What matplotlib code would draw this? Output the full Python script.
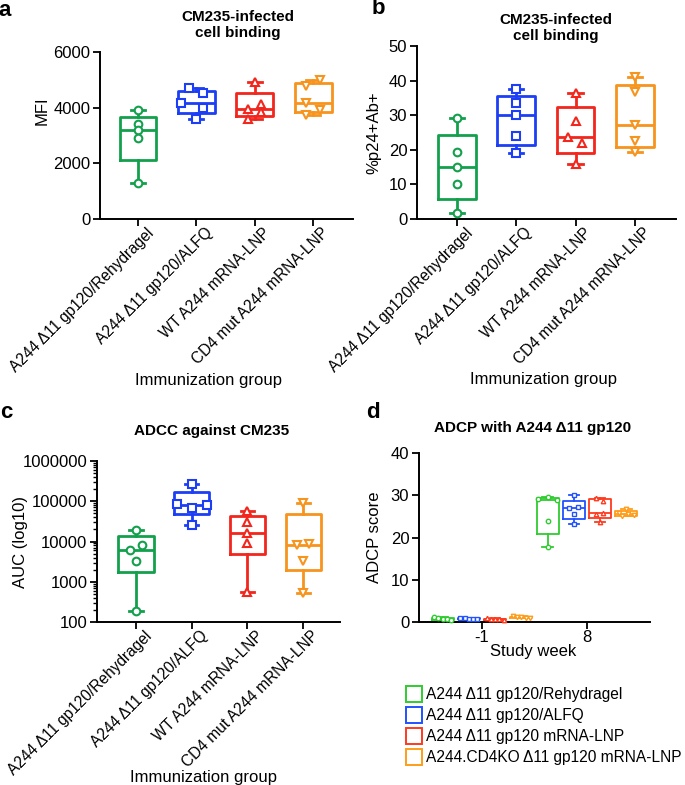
import matplotlib
matplotlib.use('Agg')
import matplotlib.pyplot as plt
import numpy as np
from matplotlib.lines import Line2D
from matplotlib.transforms import ScaledTranslation
from matplotlib.ticker import FixedLocator, FuncFormatter, LogLocator, NullFormatter

plt.rcParams['font.family'] = ['Liberation Sans', 'DejaVu Sans']

# ---- data ----
groups = ['A244 Δ11 gp120/Rehydragel', 'A244 Δ11 gp120/ALFQ',
          'WT A244 mRNA-LNP', 'CD4 mut A244 mRNA-LNP']
legend_labels = ['A244 Δ11 gp120/Rehydragel', 'A244 Δ11 gp120/ALFQ',
                 'A244 Δ11 gp120 mRNA-LNP', 'A244.CD4KO Δ11 gp120 mRNA-LNP']

mfi = [[3920, 3420, 3180, 2920, 1300],
       [4690, 4510, 4180, 3975, 3610],
       [4930, 4130, 3940, 3830, 3595],
       [4990, 4790, 4150, 3920, 3750]]

p24 = [[29.1, 19.4, 15.0, 10.1, 1.6],
       [37.5, 33.5, 30.1, 23.9, 19.1],
       [36.3, 28.3, 23.6, 22.1, 15.9],
       [40.9, 36.7, 27.2, 22.6, 19.3]]

auc = [[18800, 8100, 6200, 3350, 188],
       [261000, 86000, 80000, 68000, 26200],
       [57000, 30500, 16100, 9300, 560],
       [90000, 8800, 8300, 3350, 520]]

weeks = ['-1', '8']
adcp_wk_m1 = [[1.2, 0.9, 0.8, 0.6, 0.5],
              [0.9, 0.9, 0.8, 0.8, 0.7],
              [0.9, 0.7, 0.6, 0.6, 0.5],
              [1.4, 1.2, 1.1, 1.0, 0.9]]
adcp_wk_8 = [[29.7, 29.0, 28.8, 23.9, 17.7],
             [30.1, 27.2, 27.0, 25.5, 23.3],
             [29.4, 28.6, 25.9, 25.6, 23.6],
             [26.8, 25.8, 25.5, 25.3, 25.1]]

# ---- layout / style ----
colors = ['#13a04c', '#1c3ff5', '#f2261c', '#f7941d']
colors_d = ['#2fcc2f', '#2152ff', '#ff3a1e', '#ff9d1a']
markers = ['o', 's', '^', 'v']

# horizontal scatter of the points within each box (category units)
jit_a = [[0, 0, 0, 0, 0], [-0.12, 0.11, -0.27, 0.11, 0],
         [0, 0.11, -0.11, 0.11, -0.11], [0.12, -0.12, -0.12, 0.12, -0.12]]
jit_b = [[0, 0, 0, 0, 0], [0, 0, 0, 0, 0],
         [0, 0, -0.12, 0.11, 0], [0, 0, 0, 0, 0]]
jit_c = [[0, 0.11, -0.11, 0, 0], [0, -0.27, 0.27, 0, 0],
         [0, 0, 0, 0, 0], [0, 0.11, -0.12, 0, 0]]
jit_d8 = [[0, -0.09, 0.09, 0, 0], [0, 0.04, -0.05, 0, 0],
          [-0.04, 0.03, 0.03, -0.04, 0], [0, -0.07, 0.02, 0.07, -0.04]]
jit_dm1 = [-0.08, -0.04, 0, 0.04, 0.08]

W, H = 685, 785
FS = 12
fig = plt.figure(figsize=(W / 100, H / 100), dpi=100)


def px_axes(left, right, top, bottom):
    return fig.add_axes([left / W, 1 - bottom / H, (right - left) / W, (bottom - top) / H])


def stats(vals):
    q1, med, q3 = np.percentile(vals, [25, 50, 75], method='weibull')
    return dict(med=med, q1=q1, q3=q3, whislo=min(vals), whishi=max(vals), fliers=[])


def style_axes(ax):
    for s in ('top', 'right'):
        ax.spines[s].set_visible(False)
    for s in ('left', 'bottom'):
        ax.spines[s].set_linewidth(1.4)
    ax.tick_params(axis='both', length=5, width=1.3, labelsize=FS, pad=2)
    ax.tick_params(axis='both', which='minor', length=3, width=1.0)


def draw_boxes(ax, data, jit, pos, cols, width, lw, ms, capw):
    for i, vals in enumerate(data):
        c = cols[i]
        ax.bxp([stats(vals)], positions=[pos[i]], widths=width, showfliers=False,
               boxprops=dict(color=c, lw=lw), whiskerprops=dict(color=c, lw=lw),
               capprops=dict(color=c, lw=lw), medianprops=dict(color=c, lw=lw),
               capwidths=capw, manage_ticks=False)
        ax.plot(pos[i] + np.array(jit[i]), vals, ls='none', marker=markers[i % 4], ms=ms,
                mfc='white', mec=c, mew=lw * 0.75, zorder=5, clip_on=False)


def category_panel(ax, data, jit):
    pos = np.arange(len(groups))
    draw_boxes(ax, data, jit, pos, colors, 0.63, 2.0, 5.5, 0.24)
    style_axes(ax)
    ax.set_xticks(pos)
    ax.set_xticklabels(groups, rotation=45, ha='right', va='top',
                       rotation_mode='anchor', fontsize=11.2)
    shift = ScaledTranslation(0.08, 0.035, fig.dpi_scale_trans)
    for lab in ax.get_xticklabels():
        lab.set_transform(lab.get_transform() + shift)
    ax.set_xlabel('Immunization group', fontsize=FS)
    ax.xaxis.label.set_va('center')


# panel a
ax_a = px_axes(100, 353, 52, 219)
category_panel(ax_a, mfi, jit_a)
ax_a.set_xlim(-0.65, 3.68)
ax_a.set_ylim(0, 6000)
ax_a.set_yticks([0, 2000, 4000, 6000])
ax_a.set_ylabel('MFI', fontsize=FS)
ax_a.yaxis.set_label_coords(-0.2, 0.65)
ax_a.xaxis.set_label_coords(0.43, -0.965)

# panel b
ax_b = px_axes(417, 676, 46, 219)
category_panel(ax_b, p24, jit_b)
ax_b.set_xlim(-0.67, 3.69)
ax_b.set_ylim(0, 50)
ax_b.set_yticks([0, 10, 20, 30, 40, 50])
ax_b.set_ylabel('%p24+Ab+', fontsize=FS)
ax_b.yaxis.set_label_coords(-0.136, 0.5)
ax_b.xaxis.set_label_coords(0.49, -0.93)

# panel c
ax_c = px_axes(97, 340, 461, 622)
ax_c.set_yscale('log')
category_panel(ax_c, auc, jit_c)
ax_c.set_xlim(-0.7, 3.66)
ax_c.set_ylim(100, 1e6)
ax_c.yaxis.set_major_locator(FixedLocator([100, 1000, 10000, 100000, 1000000]))
ax_c.yaxis.set_major_formatter(FuncFormatter(lambda v, p: f'{int(round(v))}'))
ax_c.yaxis.set_minor_locator(LogLocator(base=10, subs=np.arange(2, 10)))
ax_c.yaxis.set_minor_formatter(NullFormatter())
ax_c.tick_params(axis='x', which='minor', length=0)
ax_c.set_ylabel('AUC (log10)', fontsize=FS)
ax_c.yaxis.set_label_coords(-0.284, 0.5)
ax_c.xaxis.set_label_coords(0.44, -0.965)

# panel d
ax_d = px_axes(419, 650, 453, 622)
offs = np.array([-0.375, -0.125, 0.125, 0.375])
draw_boxes(ax_d, adcp_wk_m1, [jit_dm1] * 4, 0 + offs, colors_d, 0.21, 1.3, 3.2, 0.1)
draw_boxes(ax_d, adcp_wk_8, jit_d8, 1 + offs, colors_d, 0.21, 1.3, 3.2, 0.1)
style_axes(ax_d)
ax_d.tick_params(axis='x', pad=1)
ax_d.set_xlim(-0.6, 1.6)
ax_d.set_ylim(0, 40)
ax_d.set_xticks([0, 1])
ax_d.set_xticklabels(weeks)
ax_d.set_yticks([0, 10, 20, 30, 40])
ax_d.set_ylabel('ADCP score', fontsize=FS)
ax_d.yaxis.set_label_coords(-0.161, 0.5)
ax_d.set_xlabel('Study week', fontsize=FS)
ax_d.xaxis.set_label_coords(0.494, -0.175)
ax_d.xaxis.label.set_va('center')

handles = [Line2D([], [], ls='none', marker='s', ms=11, mfc='white', mec=c, mew=1.4)
           for c in colors_d]
fig.legend(handles, legend_labels, loc='upper left', bbox_to_anchor=(401 / W, 1 - 681 / H),
           frameon=False, fontsize=11.2, handlelength=0.9, handletextpad=0.3,
           labelspacing=0.38, borderaxespad=0)

# titles and panel letters
fig.text(238 / W, 1 - 25 / H, 'CM235-infected\ncell binding', ha='center', va='center',
         fontsize=11, fontweight='bold', linespacing=1.25)
fig.text(556 / W, 1 - 28 / H, 'CM235-infected\ncell binding', ha='center', va='center',
         fontsize=11, fontweight='bold', linespacing=1.25)
fig.text(212 / W, 1 - 431 / H, 'ADCC against CM235', ha='center', va='center',
         fontsize=11, fontweight='bold')
fig.text(533 / W, 1 - 428 / H, 'ADCP with A244 Δ11 gp120', ha='center', va='center',
         fontsize=11, fontweight='bold')
for letter, x, y in [('a', 5, 10), ('b', 378, 9), ('c', 6, 413), ('d', 373, 412)]:
    fig.text(x / W, 1 - y / H, letter, ha='center', va='center', fontsize=16, fontweight='bold')

fig.savefig('out.png', dpi=100)
